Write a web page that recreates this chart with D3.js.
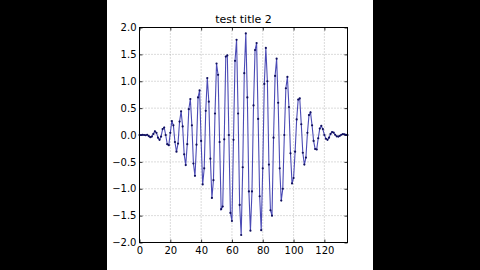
<!DOCTYPE html>
<html>
<head>
<meta charset="utf-8">
<script src="https://cdn.jsdelivr.net/npm/d3@7"></script>
<style>
  html, body { margin: 0; padding: 0; background: #000; }
  svg { display: block; }
  .tick text { font-family: "DejaVu Sans", sans-serif; font-size: 10px; fill: #000; }
</style>
</head>
<body>
<svg id="chart" width="480" height="270"></svg>
<script>
const chartTitle = 'test title 2';
const xDomain = [0, 135];
const yDomain = [-2.0, 2.0];
const xTicks = [0, 20, 40, 60, 80, 100, 120];
const yTicks = [-2.0, -1.5, -1.0, -0.5, 0.0, 0.5, 1.0, 1.5, 2.0];

// one sample per integer x
const yValues = [
  0.0, 0.0, 0.005, 0.0, -0.005, 0.005, -0.02, -0.04, -0.03, 0.02,
  0.07, 0.04, -0.05, -0.09, -0.03, 0.11, 0.14, 0.0, -0.17, -0.19,
  0.04, 0.26, 0.18, -0.13, -0.31, -0.16, 0.25, 0.44, 0.16, -0.36,
  -0.56, -0.17, 0.48, 0.67, 0.18, -0.53, -0.76, -0.18, 0.70, 0.83,
  -0.11, -0.92, -0.62, 0.45, 1.06, 0.62, -0.44, -1.17, -0.84, 0.40,
  1.33, 1.12, -0.13, -1.38, -1.33, -0.08, 1.46, 1.48, 0.0, -1.45,
  -1.60, -0.09, 1.38, 1.77, 0.40, -1.30, -1.86, -0.60, 1.15, 1.89,
  0.70, -1.05, -1.78, -1.05, 0.55, 1.58, 1.71, 0.30, -1.14, -1.77,
  -0.62, 0.95, 1.62, 1.00, -0.55, -1.40, -1.50, -0.05, 1.10, 1.42,
  0.60, -0.62, -1.22, -1.00, 0.0, 0.87, 1.08, 0.52, -0.34, -0.90,
  -0.80, -0.31, 0.29, 0.66, 0.68, 0.20, -0.33, -0.55, -0.42, 0.04,
  0.37, 0.42, 0.18, -0.11, -0.26, -0.27, -0.06, 0.12, 0.17, 0.11,
  0.0, -0.07, -0.09, -0.05, 0.02, 0.055, 0.045, 0.005, -0.025, -0.03,
  -0.015, 0.005, 0.015, 0.012, 0.005, 0.0
];

const svg = d3.select('#chart');
const width = 480;
const height = 270;
const margin = { top: 27.5, right: 132.5, bottom: 27.5, left: 139.5 };
const innerWidth = width - margin.left - margin.right;
const innerHeight = height - margin.top - margin.bottom;

svg.append('rect').attr('width', width).attr('height', height).attr('fill', '#000');
svg.append('rect')
  .attr('x', 107).attr('y', 0)
  .attr('width', 266).attr('height', height)
  .attr('fill', '#fff');

const grp = svg.append('g')
  .attr('transform', 'translate(' + margin.left + ',' + margin.top + ')');

const xScale = d3.scaleLinear().domain(xDomain).range([0, innerWidth]);
const yScale = d3.scaleLinear().domain(yDomain).range([innerHeight, 0]);

// dotted grid
grp.append('g')
  .selectAll('line')
  .data(xTicks.filter((t) => t > xDomain[0]))
  .enter()
  .append('line')
  .attr('x1', (d) => xScale(d)).attr('x2', (d) => xScale(d))
  .attr('y1', 0).attr('y2', innerHeight)
  .attr('stroke', '#9a9a9a').attr('stroke-width', 0.7)
  .attr('stroke-dasharray', '1,2');

grp.append('g')
  .selectAll('line')
  .data(yTicks.filter((t) => t > yDomain[0] && t < yDomain[1]))
  .enter()
  .append('line')
  .attr('x1', 0).attr('x2', innerWidth)
  .attr('y1', (d) => yScale(d)).attr('y2', (d) => yScale(d))
  .attr('stroke', '#9a9a9a').attr('stroke-width', 0.7)
  .attr('stroke-dasharray', '1,2');

// axes, ticks pointing inward on all four sides
const fmt = d3.format('.1f');
const xAxis = grp.append('g')
  .attr('transform', 'translate(0,' + innerHeight + ')')
  .call(d3.axisBottom(xScale).tickValues(xTicks).tickSize(-3).tickPadding(4));
const yAxis = grp.append('g')
  .call(d3.axisLeft(yScale).tickValues(yTicks).tickFormat(fmt).tickSize(-3).tickPadding(3));
const xTop = grp.append('g')
  .call(d3.axisTop(xScale).tickValues(xTicks).tickSize(-3).tickFormat(''));
const yRight = grp.append('g')
  .attr('transform', 'translate(' + innerWidth + ',0)')
  .call(d3.axisRight(yScale).tickValues(yTicks).tickSize(-3).tickFormat(''));

[xAxis, yAxis, xTop, yRight].forEach((a) => {
  a.select('.domain').remove();
  a.selectAll('.tick line').attr('stroke', '#000').attr('stroke-width', 0.8);
});

// series
const lineGen = d3.line()
  .x((d, i) => xScale(i))
  .y((d) => yScale(d));

grp.append('path')
  .datum(yValues)
  .attr('fill', 'none')
  .attr('stroke', '#2c2ca8')
  .attr('stroke-width', 1.1)
  .attr('stroke-opacity', 0.85)
  .attr('d', lineGen);

grp.selectAll('.dot')
  .data(yValues)
  .enter()
  .append('circle')
  .attr('class', 'dot')
  .attr('cx', (d, i) => xScale(i))
  .attr('cy', (d) => yScale(d))
  .attr('r', 1.1)
  .attr('fill', '#10105e');

// frame
grp.append('rect')
  .attr('width', innerWidth).attr('height', innerHeight)
  .attr('fill', 'none').attr('stroke', '#000').attr('stroke-width', 1);

svg.append('text')
  .attr('x', margin.left + innerWidth / 2)
  .attr('y', 23)
  .attr('text-anchor', 'middle')
  .style('font-family', '"DejaVu Sans", sans-serif')
  .style('font-size', '11px')
  .attr('fill', '#000')
  .text(chartTitle);
</script>
</body>
</html>
